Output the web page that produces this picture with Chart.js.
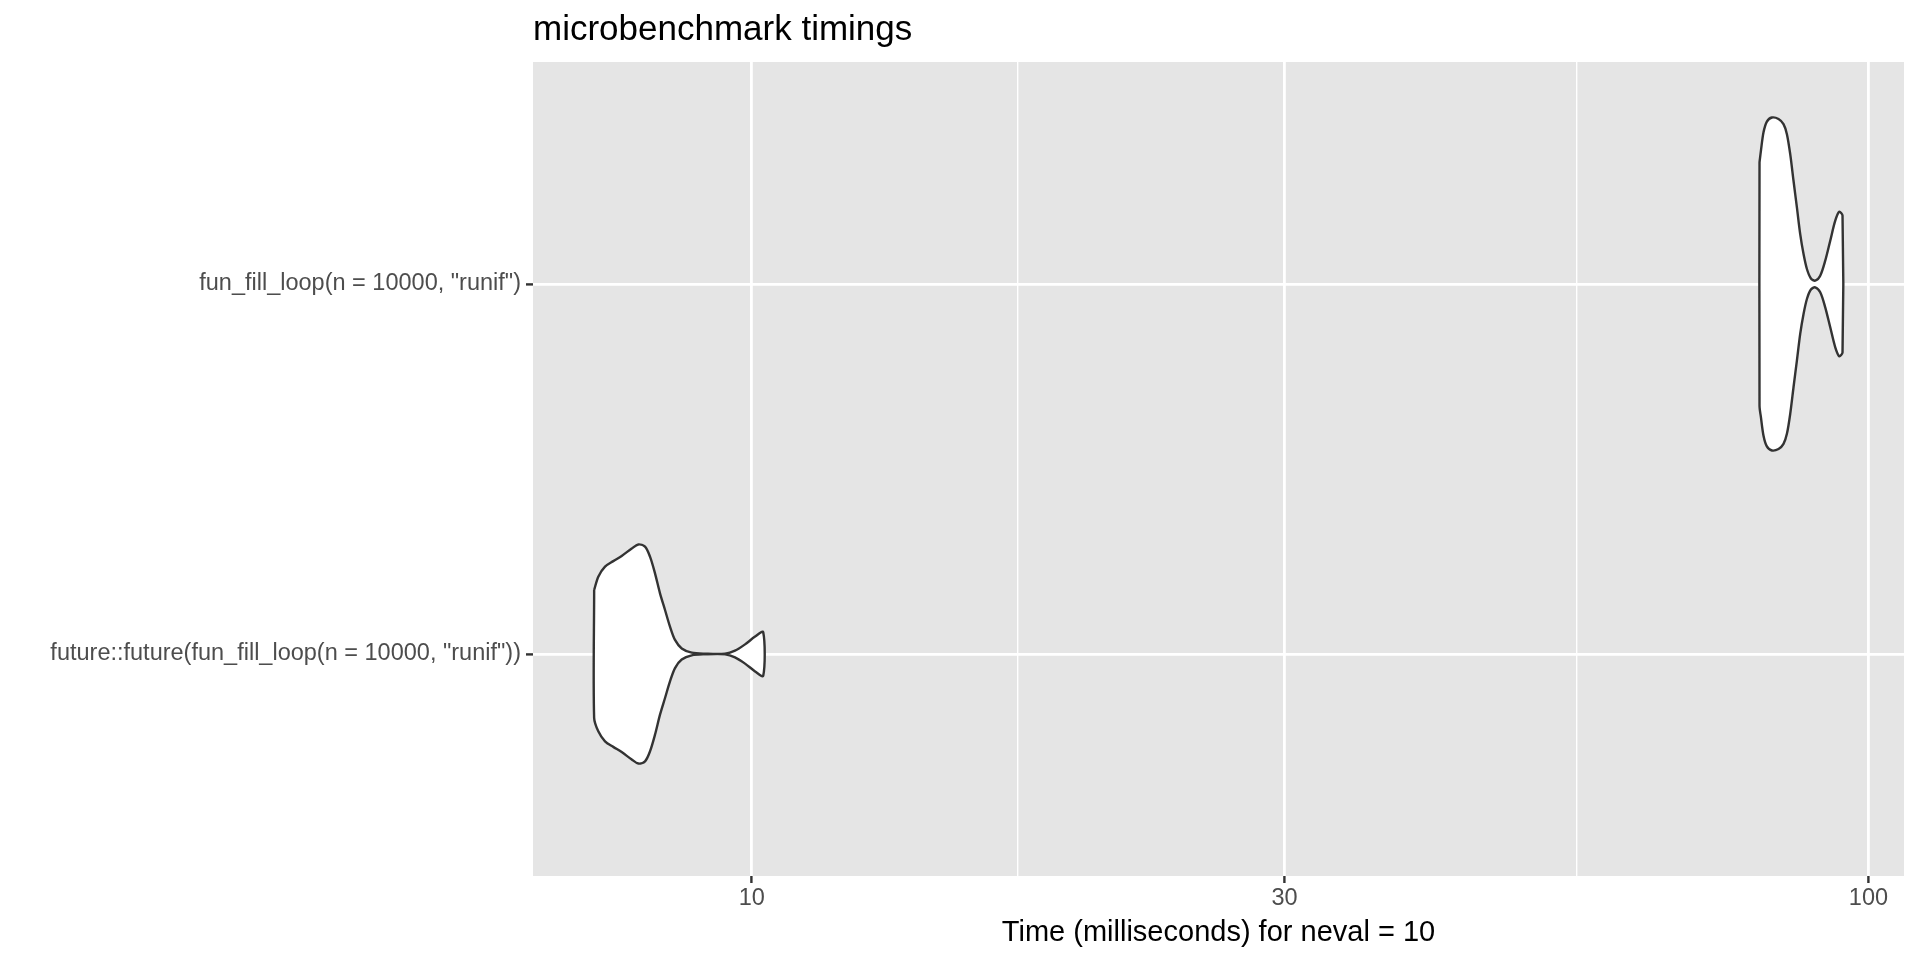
<!DOCTYPE html>
<html>
<head>
<meta charset="utf-8">
<script src="https://cdn.jsdelivr.net/npm/chart.js@4.4.1/dist/chart.umd.min.js"></script>
<style>
  html, body { margin: 0; padding: 0; background: #ffffff; }
  #wrap { width: 1920px; height: 960px; }
</style>
</head>
<body>
<div id="wrap"><canvas id="timings" width="1920" height="960"></canvas></div>
<script>
// categories on the y axis, bottom to top
const categories = [
    'future::future(fun_fill_loop(n = 10000, "runif"))',
    'fun_fill_loop(n = 10000, "runif")'
];
const xTicks = [10, 30, 100];

// violin outlines: time (ms) and half width (in category units)
const loopTimes = [79.88, 80.11, 80.54, 81.1, 81.94, 83.07, 83.93, 84.52, 85.1, 85.68, 86.28, 86.87, 87.47, 88.08, 88.81, 89.6, 90.53, 91.47, 92.42, 93.38, 94.15, 94.79];
const loopWidths = [0.329, 0.36, 0.41, 0.439, 0.45, 0.446, 0.432, 0.405, 0.351, 0.279, 0.207, 0.135, 0.081, 0.0405, 0.015, 0.009, 0.0225, 0.063, 0.117, 0.171, 0.195, 0.185];

const futureTimes = [7.226, 7.288, 7.39, 7.517, 7.648, 7.808, 7.915, 8.025, 8.108, 8.192, 8.277, 8.363, 8.449, 8.537, 8.656, 8.837, 9.082, 9.464, 9.661, 9.863, 10.07, 10.24];
const futureWidths = [0.173, 0.209, 0.236, 0.251, 0.265, 0.285, 0.296, 0.29, 0.263, 0.218, 0.164, 0.119, 0.074, 0.038, 0.015, 0.0036, 0.001, 0.001, 0.009, 0.026, 0.047, 0.059];

const FONT = "'Liberation Sans', Arial, Helvetica, sans-serif";

function outline(times, widths, center) {
    const upper = times.map((t, i) => ({x: t, y: center + widths[i]}));
    const lower = times.map((t, i) => ({x: t, y: center - widths[i]})).reverse();
    return upper.concat(lower, [upper[0]]);
}

// minor grid lines sit halfway between the major ones on the log scale
const xGrid = [];
xTicks.forEach((t, i) => {
    xGrid.push(t);
    if (i < xTicks.length - 1) xGrid.push(Math.sqrt(t * xTicks[i + 1]));
});

const isMajor = v => xTicks.includes(v);

const panel = {
    id: "panel",
    beforeDraw(chart) {
        const {ctx, chartArea: a} = chart;
        ctx.save();
        ctx.fillStyle = "#e5e5e5";
        ctx.fillRect(a.left, a.top, a.right - a.left, a.bottom - a.top);
        ctx.fillStyle = "#000000";
        ctx.font = "35px " + FONT;
        ctx.textBaseline = "alphabetic";
        ctx.textAlign = "left";
        ctx.fillText("microbenchmark timings", a.left, 40);
        ctx.restore();
    }
};

const violin = (times, widths, center) => ({
    data: outline(times, widths, center),
    showLine: true,
    fill: "shape",
    backgroundColor: "#ffffff",
    borderColor: "#333333",
    borderWidth: 2.4,
    pointRadius: 0,
    tension: 0.3
});

new Chart(document.getElementById("timings"), {
    type: "scatter",
    data: {
        datasets: [
            violin(loopTimes, loopWidths, 2),
            violin(futureTimes, futureWidths, 1)
        ]
    },
    options: {
        responsive: false,
        devicePixelRatio: 1,
        animation: false,
        layout: {padding: {top: 62, right: 16, bottom: 0, left: 0}},
        plugins: {
            legend: {display: false},
            tooltip: {enabled: false}
        },
        scales: {
            x: {
                type: "logarithmic",
                min: 6.37,
                max: 107.6,
                afterBuildTicks: s => { s.ticks = xGrid.map(v => ({value: v})); },
                afterFit: s => { s.height = 84; },
                border: {display: false},
                grid: {
                    color: "#ffffff",
                    lineWidth: c => (c.tick && isMajor(c.tick.value)) ? 2.8 : 1.4,
                    tickColor: c => (c.tick && isMajor(c.tick.value)) ? "#333333" : "rgba(0,0,0,0)",
                    tickLength: 7,
                    tickWidth: 2.4
                },
                ticks: {
                    autoSkip: false,
                    maxRotation: 0,
                    padding: 1,
                    color: "#4d4d4d",
                    font: {family: FONT, size: 23.5},
                    callback: v => isMajor(v) ? String(v) : ""
                },
                title: {
                    display: true,
                    text: "Time (milliseconds) for neval = 10",
                    color: "#000000",
                    font: {family: FONT, size: 29},
                    padding: {top: 0, bottom: 10}
                }
            },
            y: {
                type: "linear",
                min: 0.4,
                max: 2.6,
                afterBuildTicks: s => { s.ticks = categories.map((c, i) => ({value: i + 1})); },
                afterFit: s => { s.width = 533; },
                border: {display: false},
                grid: {
                    color: "#ffffff",
                    lineWidth: 2.8,
                    tickColor: "#333333",
                    tickLength: 7,
                    tickWidth: 2.4
                },
                ticks: {
                    padding: 5,
                    color: "#4d4d4d",
                    font: {family: FONT, size: 23.5},
                    callback: v => categories[v - 1] || ""
                }
            }
        }
    },
    plugins: [panel]
});
</script>
</body>
</html>
